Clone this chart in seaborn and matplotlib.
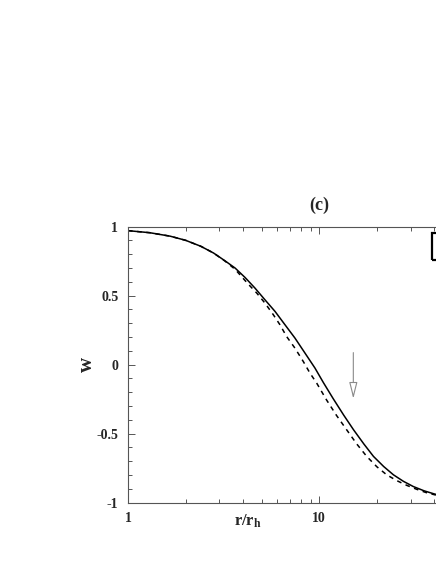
import matplotlib
matplotlib.use("Agg")
import matplotlib.pyplot as plt
import matplotlib.ticker as mticker
from matplotlib.patches import Rectangle
import seaborn as sns
import pandas as pd

# values
r_solid = [1.0, 1.3, 1.66, 2.0, 2.4, 2.8, 3.21, 3.63, 4.09, 4.61, 5.20, 5.87,
           6.62, 7.46, 8.42, 9.49, 10.5, 11.8, 13.4, 15.1, 17.1, 19.2, 21.7,
           24.4, 27.5, 31.0, 35.3, 40.2, 50.0]
w_solid = [0.970, 0.955, 0.930, 0.900, 0.857, 0.808, 0.752, 0.699, 0.631,
           0.554, 0.469, 0.385, 0.288, 0.192, 0.083, -0.025, -0.130, -0.245,
           -0.365, -0.472, -0.575, -0.665, -0.738, -0.798, -0.845, -0.883,
           -0.914, -0.938, -0.962]

r_dash = [1.0, 1.3, 1.66, 2.0, 2.4, 2.8, 3.21, 3.63, 4.25, 4.71, 5.20, 5.75,
          6.23, 6.75, 7.46, 8.25, 8.94, 9.69, 10.9, 12.3, 13.9, 15.7, 17.7,
          20.0, 22.5, 25.4, 28.6, 32.3, 36.4, 41.0, 50.0]
w_dash = [0.970, 0.955, 0.930, 0.900, 0.857, 0.808, 0.750, 0.690, 0.583,
          0.518, 0.445, 0.361, 0.288, 0.203, 0.119, 0.022, -0.062, -0.134,
          -0.255, -0.368, -0.472, -0.575, -0.665, -0.740, -0.798, -0.840,
          -0.874, -0.903, -0.928, -0.946, -0.965]

x_ticks = [1, 10]
x_tick_labels = ["1", "10"]
y_ticks = [-1, -0.5, 0, 0.5, 1]
y_tick_labels = ["-1", "-0.5", "0", "0.5", "1"]

arrow_r = 15.06
arrow_w_top = 0.107
arrow_w_tip = -0.267


def set_plotting_style():
    sns.set_style("ticks")
    plt.rcParams['font.family'] = ['Liberation Serif', 'DejaVu Serif']
    plt.rcParams['font.weight'] = 'bold'
    plt.rcParams['mathtext.fontset'] = 'custom'
    plt.rcParams['mathtext.rm'] = 'Liberation Serif:bold'
    plt.rcParams['mathtext.it'] = 'Liberation Serif:bold'
    plt.rcParams['mathtext.bf'] = 'Liberation Serif:bold'


set_plotting_style()

solid_df = pd.DataFrame({'r': r_solid, 'w': w_solid})
dash_df = pd.DataFrame({'r': r_dash, 'w': w_dash})

fig = plt.figure(figsize=(4.36, 5.64), dpi=100)
# the axes runs past the right edge of the figure, as in the reference
ax = fig.add_axes([0.2936, 0.1087, 0.8775, 0.4897])

sns.lineplot(x='r', y='w', data=solid_df, ax=ax, color='black', lw=1.1,
             sort=False)
sns.lineplot(x='r', y='w', data=dash_df, ax=ax, color='black', lw=1.1,
             sort=False, linestyle=(0, (3, 3)))

ax.set_xscale('log')
ax.set_xlim(1, 100)
ax.set_ylim(-1, 1)

ax.set_xticks(x_ticks)
ax.set_xticklabels(x_tick_labels)
ax.xaxis.set_minor_locator(mticker.LogLocator(base=10, subs=range(2, 10)))
ax.xaxis.set_minor_formatter(mticker.NullFormatter())
ax.set_yticks(y_ticks)
ax.set_yticklabels(y_tick_labels)
ax.yaxis.set_minor_locator(mticker.MultipleLocator(0.1))

ax.tick_params(which='both', direction='in', top=True, right=True,
               color='#555555', width=0.7, labelsize=10, pad=7)
ax.tick_params(which='major', length=5)
ax.tick_params(which='minor', length=3)
for spine in ax.spines.values():
    spine.set_color('#555555')
    spine.set_linewidth(0.8)

ax.set_xlabel(r'$\mathrm{r/r_h}$', fontsize=12)
ax.xaxis.set_label_coords(0.3137, -0.035)
ax.set_ylabel('w', fontsize=15, fontweight='bold', rotation=90)
ax.yaxis.set_label_coords(-0.082, 0.5)

ax.text(0.5, 1.078, '(c)', transform=ax.transAxes, ha='center', va='center',
        fontsize=13, fontweight='bold')

# grey arrow with open head
ax.annotate('', xy=(arrow_r, arrow_w_tip), xytext=(arrow_r, arrow_w_top),
            arrowprops=dict(arrowstyle='-|>,head_length=1.0,head_width=0.25',
                            mutation_scale=10, facecolor='white',
                            edgecolor='#8a8a8a', lw=0.8))

# legend frame, mostly outside the visible figure
ax.add_patch(Rectangle((38.6, 0.759), 60, 0.196, fill=False,
                       edgecolor='black', lw=1.6, clip_on=False))

fig.savefig('out.png', dpi=100)
